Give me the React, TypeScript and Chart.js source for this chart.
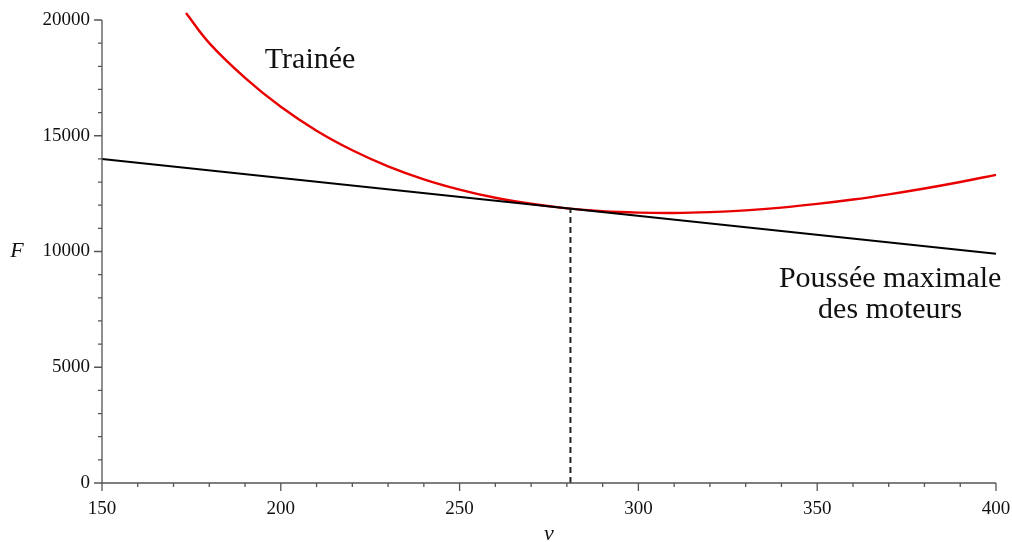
import React, { useEffect, useRef } from "react";
import { Chart, registerables } from "chart.js";

Chart.register(...registerables);

// Drag curve ("Trainée")
const dragSpeeds = [173.5, 180, 190, 200, 210, 220, 230, 240, 250, 260, 270, 280, 290, 300, 310, 320, 330, 340, 350, 360, 370, 380, 390, 400];
const dragForces = [20300, 19000, 17500, 16250, 15220, 14375, 13680, 13120, 12675, 12320, 12060, 11865, 11740, 11680, 11665, 11700, 11775, 11895, 12055, 12245, 12470, 12720, 13000, 13310];

// Maximum engine thrust line
const thrustSpeeds = [150, 400];
const thrustForces = [14000, 9900];

// Intersection (dashed vertical)
const crossSpeed = 281;
const crossForce = 11850;

// Axis ticks
const xMin = 150, xMax = 400, xStep = 50, xMinor = 10;
const yMin = 0, yMax = 20000, yStep = 5000, yMinor = 1000;

const labelDrag = "Trainée";
const labelThrust = ["Poussée maximale", "des moteurs"];
const axisX = "v";
const axisY = "F";

const SERIF = '"Liberation Serif", "Times New Roman", serif';

const decorPlugin = {
  id: "decor",
  afterDraw(chart: any) {
    const ctx = chart.ctx as CanvasRenderingContext2D;
    const xs = chart.scales.x;
    const ys = chart.scales.y;
    const x0 = xs.getPixelForValue(xMin);
    const x1 = xs.getPixelForValue(xMax);
    const y0 = ys.getPixelForValue(yMin);
    const y1 = ys.getPixelForValue(yMax);
    ctx.save();
    ctx.strokeStyle = "#555";
    ctx.lineWidth = 1.3;
    ctx.beginPath();
    ctx.moveTo(x0, y1);
    ctx.lineTo(x0, y0);
    ctx.lineTo(x1, y0);
    for (let v = xMin; v <= xMax + 1e-6; v += xMinor) {
      const px = xs.getPixelForValue(v);
      const len = v % xStep === 0 ? 8 : 4;
      ctx.moveTo(px, y0);
      ctx.lineTo(px, y0 + len);
    }
    for (let f = yMin; f <= yMax + 1e-6; f += yMinor) {
      const py = ys.getPixelForValue(f);
      const len = f % yStep === 0 ? 8 : 4;
      ctx.moveTo(x0, py);
      ctx.lineTo(x0 - len, py);
    }
    ctx.stroke();

    ctx.fillStyle = "#111";
    ctx.textAlign = "center";
    ctx.textBaseline = "alphabetic";
    ctx.font = `30px ${SERIF}`;
    ctx.fillText(labelDrag, xs.getPixelForValue(208.2), ys.getPixelForValue(17910));
    ctx.fillText(labelThrust[0], xs.getPixelForValue(370.4), ys.getPixelForValue(8480));
    ctx.fillText(labelThrust[1], xs.getPixelForValue(370.4), ys.getPixelForValue(7130));

    ctx.font = `italic 22px ${SERIF}`;
    ctx.textBaseline = "middle";
    ctx.fillText(axisY, 17, (y0 + y1) / 2);
    ctx.fillText(axisX, (x0 + x1) / 2, 534);
    ctx.restore();
  },
};

export default function App() {
  const ref = useRef<HTMLCanvasElement | null>(null);
  useEffect(() => {
    document.body.style.margin = "0";
    const canvas = ref.current!;
    const chart = new Chart(canvas, {
      type: "line",
      data: {
        datasets: [
          {
            data: [{ x: crossSpeed, y: 0 }, { x: crossSpeed, y: crossForce }],
            borderColor: "#222",
            borderWidth: 2,
            borderDash: [6, 4],
            pointRadius: 0,
            tension: 0,
          },
          {
            data: thrustSpeeds.map((v, i) => ({ x: v, y: thrustForces[i] })),
            borderColor: "#000",
            borderWidth: 2,
            pointRadius: 0,
            tension: 0,
          },
          {
            data: dragSpeeds.map((v, i) => ({ x: v, y: dragForces[i] })),
            borderColor: "#e80000",
            borderWidth: 2.4,
            pointRadius: 0,
            tension: 0.4,
            clip: false as any,
          },
        ],
      },
      options: {
        responsive: false,
        maintainAspectRatio: false,
        animation: false,
        devicePixelRatio: 1,
        layout: { padding: { top: 20, right: 16, left: 0, bottom: 0 } },
        plugins: { legend: { display: false }, tooltip: { enabled: false } },
        scales: {
          x: {
            type: "linear",
            min: xMin,
            max: xMax,
            grid: { display: false, drawTicks: false },
            border: { display: false },
            ticks: {
              stepSize: xStep,
              padding: 15,
              color: "#111",
              font: { family: SERIF, size: 19 },
              maxRotation: 0,
              callback: (v: any) => String(v),
            },
            afterFit: (s: any) => {
              s.height = 59;
              s.paddingLeft = 0;
              s.paddingRight = 0;
            },
          },
          y: {
            type: "linear",
            min: yMin,
            max: yMax,
            grid: { display: false, drawTicks: false },
            border: { display: false },
            ticks: {
              stepSize: yStep,
              padding: 12,
              color: "#111",
              font: { family: SERIF, size: 19 },
              callback: (v: any) => String(v),
            },
            afterFit: (s: any) => {
              s.width = 102;
              s.paddingTop = 0;
              s.paddingBottom = 0;
            },
          },
        },
      },
      plugins: [decorPlugin],
    });
    return () => chart.destroy();
  }, []);
  return (
    <div style={{ width: 1012, height: 542, background: "#fff" }}>
      <canvas ref={ref} width={1012} height={542} style={{ display: "block" }} />
    </div>
  );
}
